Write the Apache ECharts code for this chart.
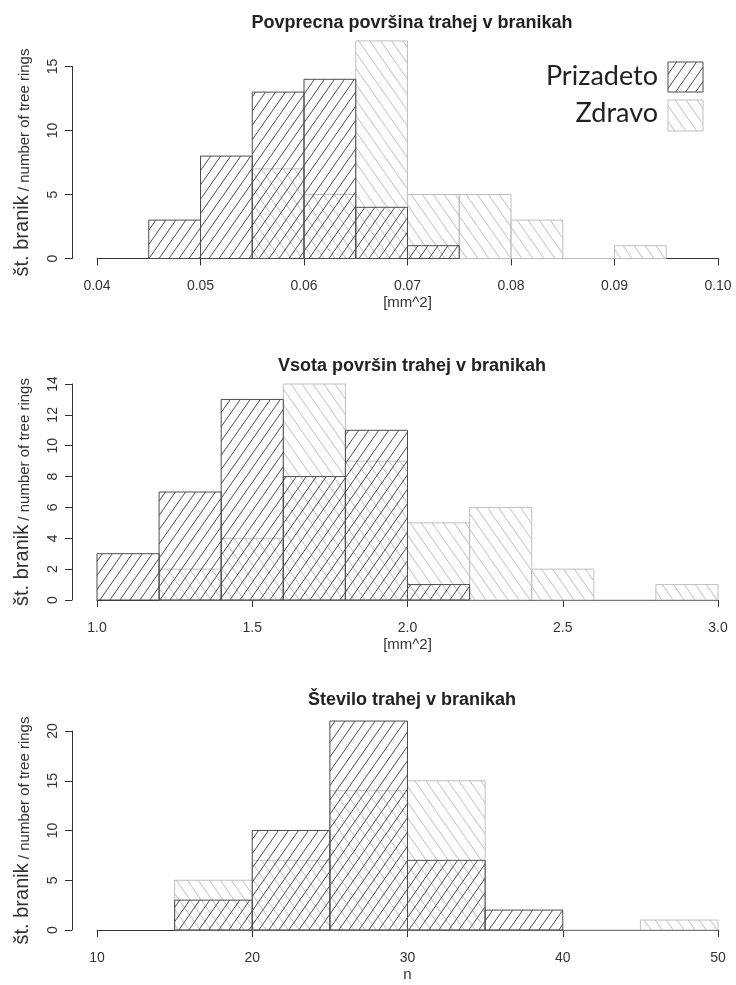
<!DOCTYPE html>
<html>
<head>
<meta charset="utf-8">
<script src="https://cdn.jsdelivr.net/npm/echarts@6/dist/echarts.min.js"></script>
<style>
html,body{margin:0;padding:0;background:#fff;}
#chart{width:736px;height:985px;}
</style>
</head>
<body>
<div id="chart"></div>
<script>
// ---------- DATA ----------
const titles = ['Povprecna površina trahej v branikah', 'Vsota površin trahej v branikah', 'Število trahej v branikah'];
const xNames = ['[mm^2]', '[mm^2]', 'n'];
const seriesNames = ['Prizadeto', 'Zdravo'];

// Panel 1: mean vessel area
const p1BinWidth = 0.005;
const p1PrizadetoStart = 0.045;
const p1Prizadeto = [3, 8, 13, 14, 4, 1];
const p1ZdravoStart = 0.055;
const p1Zdravo = [7, 5, 17, 5, 5, 3, 0, 1];
const p1XTicks = ['0.04', '0.05', '0.06', '0.07', '0.08', '0.09', '0.10'];
const p1YTicks = ['0', '5', '10', '15'];

// Panel 2: sum of vessel areas
const p2BinWidth = 0.2;
const p2PrizadetoStart = 1.0;
const p2Prizadeto = [3, 7, 13, 8, 11, 1];
const p2ZdravoStart = 1.2;
const p2Zdravo = [2, 4, 14, 9, 5, 6, 2, 0, 1];
const p2XTicks = ['1.0', '1.5', '2.0', '2.5', '3.0'];
const p2YTicks = ['0', '2', '4', '6', '8', '10', '12', '14'];

// Panel 3: number of vessels
const p3BinWidth = 5;
const p3PrizadetoStart = 15;
const p3Prizadeto = [3, 10, 21, 7, 2];
const p3ZdravoStart = 15;
const p3Zdravo = [5, 7, 14, 15, 0, 0, 1];
const p3XTicks = ['10', '20', '30', '40', '50'];
const p3YTicks = ['0', '5', '10', '15', '20'];

// ---------- HELPERS ----------
function bins(start, width, counts) {
  return counts.map((c, i) => [start + i * width, start + (i + 1) * width, c]);
}
const DARK = '#4d4d4d';
const LIGHT = '#bfbfbf';
const ANGLE = 55 * Math.PI / 180;

function hatchLines(x0, y0, x1, y1, dir, spacingH, color, lw) {
  // dir = 1 -> "/", dir = -1 -> "\"
  const nx = Math.sin(ANGLE);
  const ny = dir === 1 ? Math.cos(ANGLE) : -Math.cos(ANGLE);
  const p = spacingH * nx;
  const cs = [nx * x0 + ny * y0, nx * x1 + ny * y0, nx * x0 + ny * y1, nx * x1 + ny * y1];
  const cmin = Math.min.apply(null, cs), cmax = Math.max.apply(null, cs);
  const out = [];
  const eps = 1e-6;
  for (let k = Math.ceil(cmin / p); k <= Math.floor(cmax / p); k++) {
    const c = k * p;
    const pts = [];
    const add = (x, y) => {
      if (x < x0 - eps || x > x1 + eps || y < y0 - eps || y > y1 + eps) return;
      for (const q of pts) if (Math.abs(q[0] - x) < 0.01 && Math.abs(q[1] - y) < 0.01) return;
      pts.push([x, y]);
    };
    add(x0, (c - nx * x0) / ny);
    add(x1, (c - nx * x1) / ny);
    add((c - ny * y0) / nx, y0);
    add((c - ny * y1) / nx, y1);
    if (pts.length >= 2) {
      out.push({
        type: 'line', silent: true,
        shape: { x1: pts[0][0], y1: pts[0][1], x2: pts[1][0], y2: pts[1][1] },
        style: { stroke: color, lineWidth: lw }
      });
    }
  }
  return out;
}

function makeRender(dir, spacing, color) {
  return function (params, api) {
    const a = api.coord([api.value(0), api.value(2)]);
    const b = api.coord([api.value(1), 0]);
    const x0 = Math.min(a[0], b[0]), x1 = Math.max(a[0], b[0]);
    const y0 = Math.min(a[1], b[1]), y1 = Math.max(a[1], b[1]);
    const children = [];
    if (y1 - y0 > 0.5) {
      children.push.apply(children, hatchLines(x0, y0, x1, y1, dir, spacing, color, 1));
      children.push({
        type: 'rect', shape: { x: x0, y: y0, width: x1 - x0, height: y1 - y0 },
        style: { fill: null, stroke: color, lineWidth: 1 }
      });
    } else {
      children.push({
        type: 'line', shape: { x1: x0, y1: y1, x2: x1, y2: y1 },
        style: { stroke: color, lineWidth: 1 }
      });
    }
    return { type: 'group', children: children };
  };
}

function labelFmt(list) {
  return function (v) {
    for (const s of list) if (Math.abs(Number(s) - v) < 1e-9) return s;
    return '';
  };
}

// ---------- LAYOUT ----------
const grids = [
  { left: 97, top: 66.5, width: 621, height: 192 },
  { left: 97, top: 384, width: 621, height: 216 },
  { left: 97, top: 731, width: 621, height: 199 }
];
const titleY = [9, 352, 686];

const panels = [
  { xt: p1XTicks, yt: p1YTicks, pz: bins(p1PrizadetoStart, p1BinWidth, p1Prizadeto), zd: bins(p1ZdravoStart, p1BinWidth, p1Zdravo) },
  { xt: p2XTicks, yt: p2YTicks, pz: bins(p2PrizadetoStart, p2BinWidth, p2Prizadeto), zd: bins(p2ZdravoStart, p2BinWidth, p2Zdravo) },
  { xt: p3XTicks, yt: p3YTicks, pz: bins(p3PrizadetoStart, p3BinWidth, p3Prizadeto), zd: bins(p3ZdravoStart, p3BinWidth, p3Zdravo) }
];

const FONT = 'Liberation Sans, Arial, sans-serif';
const xAxes = [], yAxes = [], series = [], titleOpts = [];
panels.forEach((p, i) => {
  const xs = p.xt.map(Number), ys = p.yt.map(Number);
  titleOpts.push({
    text: titles[i], left: 407, top: titleY[i], textAlign: 'center',
    textStyle: { fontFamily: FONT, fontSize: 18, fontWeight: 'bold', color: '#222' }
  });
  xAxes.push({
    type: 'value', gridIndex: i, min: xs[0], max: xs[xs.length - 1], interval: xs[1] - xs[0],
    offset: 8,
    axisLine: { show: true, lineStyle: { color: '#333', width: 1 } },
    axisTick: { show: true, length: 7, lineStyle: { color: '#333' } },
    splitLine: { show: false },
    axisLabel: { formatter: labelFmt(p.xt), fontFamily: FONT, fontSize: 14, color: '#333', margin: 13, showMinLabel: true, showMaxLabel: true },
    name: xNames[i], nameLocation: 'middle', nameGap: 29,
    nameTextStyle: { fontFamily: FONT, fontSize: 15, color: '#333' }
  });
  yAxes.push({
    type: 'value', gridIndex: i, min: ys[0], max: ys[ys.length - 1], interval: ys[1] - ys[0],
    offset: 25,
    axisLine: { show: true, lineStyle: { color: '#333', width: 1 } },
    axisTick: { show: true, length: 7, lineStyle: { color: '#333' } },
    splitLine: { show: false },
    axisLabel: { formatter: labelFmt(p.yt), rotate: 90, fontFamily: FONT, fontSize: 14, color: '#333', margin: 12 },
    name: '{a|št. branik}{b| / number of tree rings}', nameLocation: 'middle', nameGap: 40, nameRotate: 90,
    nameTextStyle: {
      fontFamily: FONT, color: '#333',
      rich: {
        a: { fontFamily: FONT, fontSize: 20, color: '#333', verticalAlign: 'bottom', lineHeight: 22 },
        b: { fontFamily: FONT, fontSize: 15, color: '#333', verticalAlign: 'bottom', lineHeight: 22 }
      }
    }
  });
  series.push({
    name: seriesNames[1], type: 'custom', xAxisIndex: i, yAxisIndex: i, clip: false,
    renderItem: makeRender(-1, 11, LIGHT), encode: { x: [0, 1], y: 2 }, data: p.zd, z: 2
  });
  series.push({
    name: seriesNames[0], type: 'custom', xAxisIndex: i, yAxisIndex: i, clip: false,
    renderItem: makeRender(1, 10, DARK), encode: { x: [0, 1], y: 2 }, data: p.pz, z: 3
  });
});

// legend (top panel)
const legendItems = [
  { label: seriesNames[0], dir: 1, color: DARK, spacing: 10, box: [668, 62, 703, 92], ty: 79 },
  { label: seriesNames[1], dir: -1, color: LIGHT, spacing: 11, box: [668, 100, 703, 131], ty: 116 }
];
const graphics = [];
legendItems.forEach(it => {
  const [bx0, by0, bx1, by1] = it.box;
  graphics.push({
    type: 'text', left: 'auto', right: 736 - 658, top: it.ty - 16,
    style: { text: it.label, fontFamily: 'Lato, sans-serif', fontSize: 27, fill: '#222' }
  });
  graphics.push({
    type: 'group', children: hatchLines(bx0, by0, bx1, by1, it.dir, it.spacing, it.color, 1).concat([{
      type: 'rect', shape: { x: bx0, y: by0, width: bx1 - bx0, height: by1 - by0 },
      style: { fill: null, stroke: it.color, lineWidth: 1 }
    }])
  });
});

const chart = echarts.init(document.getElementById('chart'), null, { renderer: 'canvas' });
chart.setOption({
  backgroundColor: '#fff',
  animation: false,
  title: titleOpts,
  grid: grids,
  xAxis: xAxes,
  yAxis: yAxes,
  series: series,
  graphic: graphics
});
</script>
</body>
</html>
